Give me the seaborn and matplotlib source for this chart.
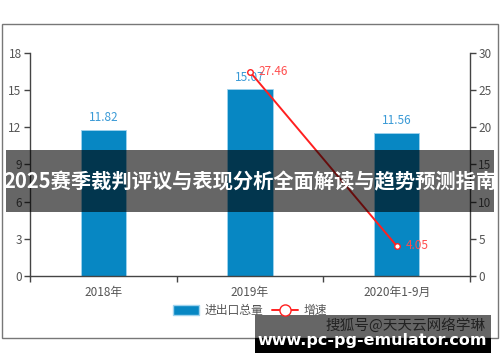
import numpy as np
import pandas as pd

import matplotlib
matplotlib.use('AGG')
import matplotlib.pyplot as plt
from matplotlib.patches import Rectangle, Patch
from matplotlib.lines import Line2D
import seaborn as sns

sns.set_theme(style="white")
plt.rcParams['font.family'] = ['Noto Sans CJK SC', 'DejaVu Sans']

# data
categories = ['2018年', '2019年', '2020年1-9月']
volume = [11.82, 15.07, 11.56]
growth = [np.nan, 27.46, 4.05]
series_names = ['进出口总量', '增速']
left_ticks = [0, 3, 6, 9, 12, 15, 18]
right_ticks = [0, 5, 10, 15, 20, 25, 30]
banner_text = '2025赛季裁判评议与表现分析全面解读与趋势预测指南'
mark_text = '搜狐号@天天云网络学琳'
site_text = 'www.pc-pg-emulator.com'

BLUE = '#0787c3'
LABEL_BLUE = '#3a9ad6'
RED = '#ff2020'
LABEL_RED = '#ff4d4d'
AXIS = '#444444'
TEXT = '#555555'

df = pd.DataFrame({'cat': categories, 'pos': range(len(categories)),
                   'volume': volume, 'growth': growth})

fig = plt.figure(figsize=(5, 3.62), dpi=100)
ax = fig.add_axes([0.06, 0.2376, 0.88, 0.616])

sns.barplot(data=df, x='cat', y='volume', color=BLUE, saturation=1,
            width=0.31, ax=ax, edgecolor='#9fd3ee', linewidth=0.6)
ax.set_xlim(-0.5, 2.5)
ax.set_ylim(0, 18)
ax.set_yticks(left_ticks)
ax.set_xlabel('')
ax.set_ylabel('')

for x, v in zip(df['pos'], df['volume']):
    ax.text(x, v + 0.45, f'{v:.2f}', ha='center', va='bottom',
            color=LABEL_BLUE, fontsize=8.5)

ax2 = ax.twinx()
line_df = df.dropna(subset=['growth'])
sns.lineplot(data=line_df, x='pos', y='growth', color=RED, linewidth=1.4,
             marker='o', markersize=4, markerfacecolor='white',
             markeredgecolor=RED, markeredgewidth=1, ax=ax2)
ax2.set_xlim(-0.5, 2.5)
ax2.set_ylim(0, 30)
ax2.set_yticks(right_ticks)
ax2.set_xlabel('')
ax2.set_ylabel('')
for x, g in zip(line_df['pos'], line_df['growth']):
    ax2.text(x + 0.06, g, f'{g:.2f}', ha='left', va='center',
             color=LABEL_RED, fontsize=8.5)

for a in (ax, ax2):
    for s in a.spines.values():
        s.set_visible(False)
    a.grid(False)
    a.patch.set_alpha(0)

ax.spines['left'].set_visible(True)
ax.spines['bottom'].set_visible(True)
ax2.spines['right'].set_visible(True)
for s in (ax.spines['left'], ax.spines['bottom'], ax2.spines['right']):
    s.set_color(AXIS)
    s.set_linewidth(1)

ax.tick_params(axis='y', left=True, length=4, width=1, color=AXIS,
               labelcolor=TEXT, labelsize=8.5, pad=2)
ax2.tick_params(axis='y', right=True, length=4, width=1, color=AXIS,
                labelcolor=TEXT, labelsize=8.5, pad=2)
# category labels without ticks, ticks on the band boundaries
ax.tick_params(axis='x', bottom=False, labelcolor=TEXT, labelsize=8.5, pad=1)
ax.set_xticks([-0.5, 0.5, 1.5, 2.5], minor=True)
ax.tick_params(axis='x', which='minor', bottom=True, length=4, width=1,
               color=AXIS)

handles = [Patch(facecolor=BLUE, edgecolor='#9fd3ee', label=series_names[0]),
           Line2D([0], [0], color=RED, marker='o', markersize=8,
                  markerfacecolor='white', markeredgecolor=RED,
                  linewidth=1.4, label=series_names[1])]
fig.legend(handles=handles, loc='center', bbox_to_anchor=(0.5, 0.142),
           ncol=2, frameon=False, fontsize=8.5, labelcolor=TEXT,
           handlelength=2.2, handleheight=0.9, columnspacing=0.8,
           handletextpad=0.4)

# outer frame
fig.patches.append(Rectangle((0.004, 1 - 338 / 362), 0.992, (338 - 24) / 362,
                             transform=fig.transFigure, fill=False,
                             edgecolor='#777777', linewidth=1))

# banner across the middle
fig.patches.append(Rectangle((6 / 500, 1 - 212 / 362), 488 / 500, 62 / 362,
                             transform=fig.transFigure, facecolor='black',
                             alpha=0.6, edgecolor='none', zorder=5))
fig.text(0.5, 1 - 182 / 362, banner_text, ha='center', va='center',
         color='white', fontsize=14.6, fontweight='bold', zorder=6)

# watermark in the bottom right
fig.patches.append(Rectangle((255 / 500, 1 - 338 / 362), 236 / 500, 23 / 362,
                             transform=fig.transFigure, facecolor='black',
                             alpha=0.6, edgecolor='none', zorder=5))
fig.patches.append(Rectangle((255 / 500, 1 - 353 / 362), 236 / 500, 15 / 362,
                             transform=fig.transFigure, facecolor='black',
                             edgecolor='none', zorder=5))
fig.text(486 / 500, 1 - 325 / 362, mark_text, ha='right', va='center',
         color='#222222', fontsize=10.5, zorder=6)
fig.text(372 / 500, 1 - 341 / 362, site_text, ha='center', va='center',
         color='white', fontsize=11.5, fontweight='bold', zorder=6,
         family=['DejaVu Sans'])

fig.savefig('out.png', dpi=100)
